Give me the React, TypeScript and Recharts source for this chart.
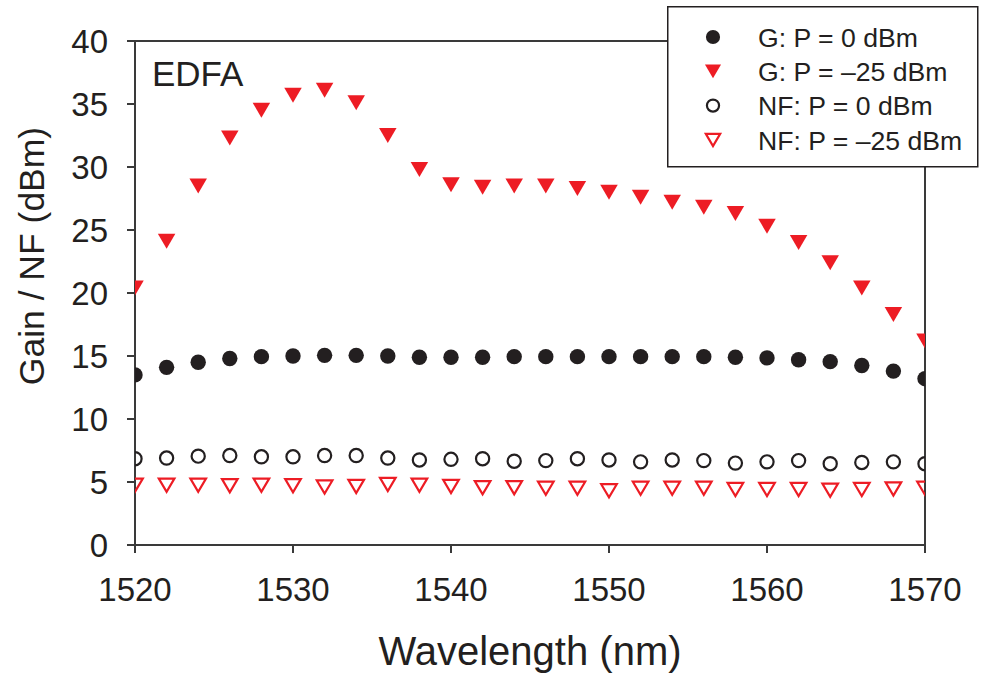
import { Legend, ReferenceLine, Scatter, ScatterChart, XAxis, YAxis } from 'recharts';

const wavelengths = [
  1520, 1522, 1524, 1526, 1528, 1530, 1532, 1534, 1536, 1538, 1540, 1542, 1544,
  1546, 1548, 1550, 1552, 1554, 1556, 1558, 1560, 1562, 1564, 1566, 1568, 1570,
];

// G: P = 0 dBm
const gainHigh = [
  13.5, 14.1, 14.5, 14.8, 14.95, 15.0, 15.05, 15.05, 15.0, 14.9, 14.9, 14.9, 14.95,
  14.95, 14.95, 14.95, 14.95, 14.95, 14.95, 14.9, 14.85, 14.7, 14.55, 14.25, 13.8, 13.2,
];
// G: P = -25 dBm
const gainLow = [
  20.4, 24.1, 28.5, 32.3, 34.5, 35.7, 36.1, 35.1, 32.5, 29.8, 28.6, 28.4, 28.5,
  28.5, 28.3, 28.0, 27.6, 27.2, 26.8, 26.3, 25.3, 24.0, 22.4, 20.4, 18.3, 16.2,
];
// NF: P = 0 dBm
const nfHigh = [
  6.85, 6.9, 7.05, 7.1, 7.0, 7.0, 7.1, 7.1, 6.9, 6.75, 6.8, 6.85, 6.65,
  6.7, 6.85, 6.75, 6.6, 6.75, 6.7, 6.5, 6.6, 6.7, 6.45, 6.55, 6.6, 6.45,
];
// NF: P = -25 dBm
const nfLow = [
  4.75, 4.75, 4.75, 4.7, 4.75, 4.7, 4.6, 4.65, 4.8, 4.75, 4.65, 4.55, 4.55,
  4.5, 4.5, 4.3, 4.5, 4.5, 4.5, 4.4, 4.4, 4.4, 4.35, 4.4, 4.45, 4.5,
];

const xTicks = [1520, 1530, 1540, 1550, 1560, 1570];
const yTicks = [0, 5, 10, 15, 20, 25, 30, 35, 40];

const RED = '#ED1C24';
const INK = '#231F20';
const AXIS = '#3a3a3a';
const FONT = "'Liberation Sans', Arial, sans-serif";

type Kind = 'dot' | 'tri' | 'ring' | 'triOpen';

function Marker({ kind, cx, cy, s = 1 }: { kind: Kind; cx: number; cy: number; s?: number }) {
  if (kind === 'dot') return <circle cx={cx} cy={cy} r={7.7 * s} fill={INK} />;
  if (kind === 'ring')
    return <circle cx={cx} cy={cy} r={6.6 * s} fill="none" stroke={INK} strokeWidth={2.2} />;
  const w = (kind === 'tri' ? 17.5 : 15.6) * s;
  const h = (kind === 'tri' ? 15 : 13.2) * s;
  const pts = `${cx - w / 2},${cy - h / 2} ${cx + w / 2},${cy - h / 2} ${cx},${cy + h / 2}`;
  return kind === 'tri' ? (
    <polygon points={pts} fill={RED} />
  ) : (
    <polygon points={pts} fill="none" stroke={RED} strokeWidth={2.2} strokeLinejoin="miter" />
  );
}

const series: { name: string; kind: Kind; values: number[] }[] = [
  { name: 'G: P = 0 dBm', kind: 'dot', values: gainHigh },
  { name: 'G: P = –25 dBm', kind: 'tri', values: gainLow },
  { name: 'NF: P = 0 dBm', kind: 'ring', values: nfHigh },
  { name: 'NF: P = –25 dBm', kind: 'triOpen', values: nfLow },
];

const LegendBox = () => (
  <svg width={312} height={162} style={{ display: 'block' }}>
    <rect x={0.75} y={0.75} width={310} height={160} fill="#fff" stroke={INK} strokeWidth={1.5} />
    {series.map((s, i) => (
      <g key={s.name}>
        <Marker kind={s.kind} cx={46} cy={31 + i * 34.3} s={0.92} />
        <text x={91} y={40.8 + i * 34.3} fontSize={26.6} fill={INK} fontFamily={FONT}>
          {s.name}
        </text>
      </g>
    ))}
  </svg>
);

export default function App() {
  const tickStyle = { fontSize: 33, fill: INK, fontFamily: FONT };
  return (
    <div style={{ position: 'absolute', left: 0, top: 0, background: '#fff' }}>
      <ScatterChart
        width={981}
        height={680}
        margin={{ top: 41, right: 56, bottom: 0, left: 0 }}
        style={{ fontFamily: FONT }}
      >
        <XAxis
          type="number"
          dataKey="x"
          domain={[1520, 1570]}
          ticks={xTicks}
          height={135}
          tickSize={8}
          tickMargin={25}
          tick={tickStyle}
          axisLine={{ stroke: AXIS, strokeWidth: 2 }}
          tickLine={{ stroke: AXIS, strokeWidth: 2 }}
          allowDataOverflow
        />
        <YAxis
          type="number"
          dataKey="y"
          domain={[0, 40]}
          ticks={yTicks}
          width={135}
          tickSize={8}
          tickMargin={19}
          tick={tickStyle}
          axisLine={{ stroke: AXIS, strokeWidth: 2 }}
          tickLine={{ stroke: AXIS, strokeWidth: 2 }}
          allowDataOverflow
        />
        <ReferenceLine y={40} stroke={AXIS} strokeWidth={2} />
        <ReferenceLine x={1570} stroke={AXIS} strokeWidth={2} />
        {series.map((s) => (
          <Scatter
            key={s.name}
            name={s.name}
            data={wavelengths.map((x, i) => ({ x, y: s.values[i] }))}
            isAnimationActive={false}
            shape={(p: any) => <Marker kind={s.kind} cx={p.cx} cy={p.cy} />}
          />
        ))}
        <text x={152} y={86} fontSize={35} fill={INK} fontFamily={FONT}>
          EDFA
        </text>
        <text x={530} y={665} fontSize={40} fill={INK} fontFamily={FONT} textAnchor="middle">
          Wavelength (nm)
        </text>
        <text
          x={0}
          y={0}
          fontSize={35.5}
          fill={INK}
          fontFamily={FONT}
          textAnchor="middle"
          transform="translate(44 256) rotate(-90)"
        >
          Gain / NF (dBm)
        </text>
        <Legend
          layout="vertical"
          align="center"
          verticalAlign="middle"
          content={() => <LegendBox />}
          wrapperStyle={{ position: 'absolute', left: 667, top: 6, width: 312, height: 162 }}
        />
      </ScatterChart>
    </div>
  );
}
